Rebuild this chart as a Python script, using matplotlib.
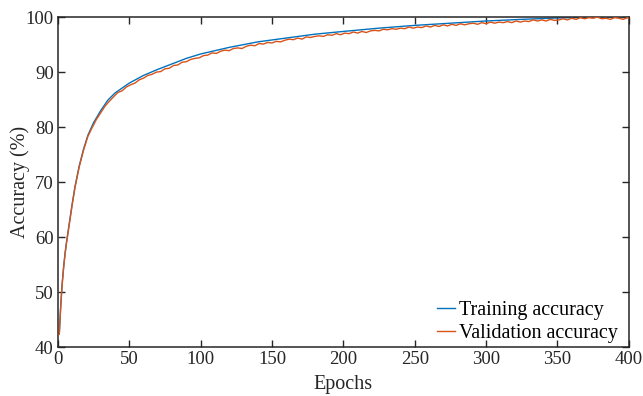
import matplotlib
matplotlib.use("Agg")
import matplotlib.pyplot as plt

train_epochs = [1, 2, 3, 4, 5, 6, 8, 10, 12, 15, 18, 21, 25, 30, 35, 40, 45, 50, 60, 70,
                80, 90, 100, 120, 140, 160, 180, 200, 225, 250, 275, 300, 325, 350, 375, 400]
train_acc = [42.5, 47.5, 51.5, 54.5, 57.0, 59.0, 62.5, 66.0, 69.2, 73.0, 76.0, 78.5, 80.8,
             83.0, 84.9, 86.2, 87.1, 88.0, 89.4, 90.5, 91.5, 92.5, 93.3, 94.5, 95.5, 96.2,
             96.9, 97.4, 98.0, 98.5, 98.9, 99.3, 99.6, 99.85, 100.0, 100.0]

val_epochs = [1, 2, 3, 4, 5, 6, 8, 10, 12, 15, 18] + list(range(21, 400, 3)) + [400]
val_acc = [42.3, 47.3, 51.3, 54.3, 56.8, 58.8, 62.3, 65.8, 69.0, 72.8, 75.8,
           78.3, 79.9, 81.4, 82.6, 83.8, 84.7, 85.5, 86.3, 86.6, 87.3,
           87.7, 88.0, 88.6, 88.9, 89.4, 89.6, 90.0, 90.1, 90.6, 90.7,
           91.2, 91.3, 91.8, 91.9, 92.3, 92.5, 92.6, 93.0, 93.1, 93.5,
           93.4, 93.8, 94.0, 93.9, 94.3, 94.4, 94.3, 94.7, 94.9, 94.8,
           95.2, 95.1, 95.4, 95.3, 95.6, 95.5, 95.8, 96.0, 95.9, 96.2,
           96.0, 96.4, 96.3, 96.5, 96.6, 96.5, 96.8, 96.7, 97.0, 96.8,
           97.1, 97.0, 97.3, 97.1, 97.4, 97.2, 97.5, 97.6, 97.5, 97.8,
           97.7, 97.9, 97.8, 98.0, 97.9, 98.2, 98.0, 98.2, 98.1, 98.4,
           98.2, 98.5, 98.3, 98.6, 98.4, 98.7, 98.5, 98.8, 98.6, 98.8,
           98.9, 98.7, 99.0, 98.8, 99.1, 98.9, 99.1, 99.0, 99.2, 99.0,
           99.3, 99.1, 99.3, 99.2, 99.5, 99.3, 99.5, 99.3, 99.6, 99.4,
           99.5, 99.7, 99.5, 99.8, 99.6, 99.9, 99.7, 99.9, 99.8, 100.0,
           99.7, 99.8, 99.6, 99.9, 99.8, 99.6, 99.9, 99.8]

x_ticks = [0, 50, 100, 150, 200, 250, 300, 350, 400]
y_ticks = [40, 50, 60, 70, 80, 90, 100]

plt.rcParams['font.family'] = ['Liberation Serif', 'DejaVu Serif']
plt.rcParams['mathtext.fontset'] = 'stix'

fig = plt.figure(figsize=(6.43, 3.96), dpi=100)
ax = fig.add_axes([0.090, 0.1237, 0.888, 0.833])

ax.plot(train_epochs, train_acc, color='#0072BD', lw=1.0, label='Training accuracy', zorder=2)
ax.plot(val_epochs, val_acc, color='#D95319', lw=1.0, label='Validation accuracy', zorder=3)

ax.set_xlim(0, 400)
ax.set_ylim(40, 100)
ax.set_xticks(x_ticks)
ax.set_yticks(y_ticks)
ax.tick_params(direction='in', length=5, width=1, top=True, right=True,
               labelsize=13.5, colors='#262626', pad=3)
for s in ax.spines.values():
    s.set_color('#262626')
    s.set_linewidth(1.1)

ax.set_xlabel('Epochs', fontsize=14.5, color='#262626', labelpad=5)
ax.set_ylabel('Accuracy (%)', fontsize=14.5, color='#262626', labelpad=-3)

leg = ax.legend(loc='lower right', bbox_to_anchor=(0.995, -0.012), frameon=False,
                fontsize=14.5, handlelength=0.9, handletextpad=0.2,
                borderaxespad=0.0, labelspacing=0.2)

fig.savefig('out.png', dpi=100)
